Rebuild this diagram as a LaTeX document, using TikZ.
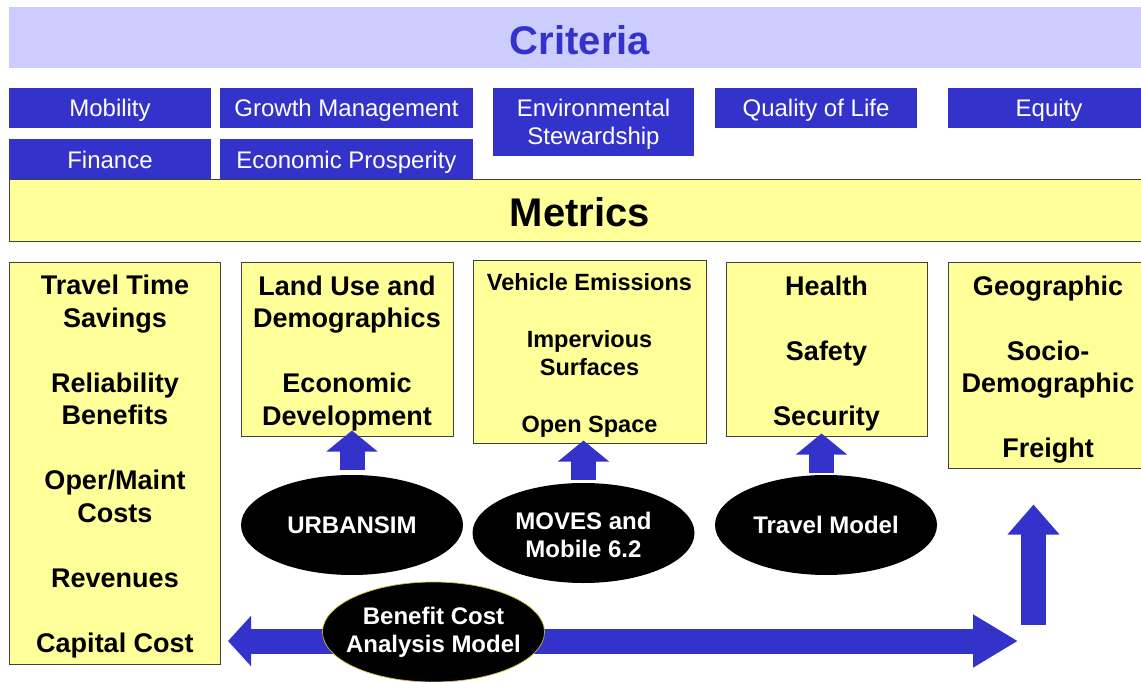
\documentclass[tikz,border=0pt]{standalone}
\usepackage{fontspec}
\setmainfont{Liberation Sans}
\usetikzlibrary{shapes.geometric,arrows.meta,calc}
\definecolor{cblue}{HTML}{3333CC}
\definecolor{clight}{HTML}{CCCCFF}
\definecolor{cyellow}{HTML}{FFFF99}
\pgfdeclarelayer{fg}
\pgfsetlayers{main,fg}
\begin{document}
\begin{tikzpicture}[x=1pt,y=-1pt,
  crit/.style={fill=cblue, text=white, font=\fontsize{24}{28}\selectfont, align=center, inner sep=0pt, text depth=0pt, minimum height=40pt},
  ybox/.style={fill=cyellow, draw=black!75, line width=1pt, inner sep=0pt},
  mtext/.style={font=\bfseries\fontsize{27}{32.5}\selectfont, align=center, inner sep=0pt},
  stext/.style={font=\bfseries\fontsize{23.5}{28.5}\selectfont, align=center, inner sep=0pt},
  title/.style={font=\bfseries\fontsize{40}{48}\selectfont, inner sep=0pt},
  model/.style={ellipse, fill=black, inner sep=0pt, minimum width=222pt, minimum height=100pt},
  mlabel/.style={text=white, font=\bfseries\fontsize{24}{28}\selectfont, align=center, inner sep=0pt},
  fat/.style={draw=cblue, line width=25pt},
]
\useasboundingbox (0,0) rectangle (1141,682);
\fill[white] (0,0) rectangle (1141,682);

% Criteria
\node[fill=clight, inner sep=0pt, minimum width=1142pt, minimum height=61pt] (critband) at (580,37.5) {};
\node[title, text=cblue] (crittitle) at (580,40) {Criteria};

\node[crit, minimum width=202pt] (mob) at (110,108) {Mobility};
\node[crit, minimum width=253pt] (grow) at (346.5,108) {Growth Management};
\node[crit, minimum width=202pt, minimum height=41pt] (fin) at (110,159.5) {Finance};
\node[crit, minimum width=253pt, minimum height=41pt] (econ) at (346.5,159.5) {Economic Prosperity};
\node[crit, minimum width=201pt, minimum height=68pt] (env) at (593.5,122) {Environmental\\Stewardship};
\node[crit, minimum width=202pt] (qol) at (816,108) {Quality of Life};
\node[crit, minimum width=202pt] (eq) at (1049,108) {Equity};

% Metrics
\node[ybox, minimum width=1145pt, minimum height=61pt] (metband) at (581.5,210.5) {};
\node[title] (mettitle) at (580,212) {Metrics};

\node[ybox, minimum width=211pt, minimum height=402pt] (box1) at (114.5,463) {};
\node[ybox, minimum width=212pt, minimum height=174pt] (box2) at (347,349) {};
\node[ybox, minimum width=233pt, minimum height=183pt] (box3) at (589.5,351.5) {};
\node[ybox, minimum width=201pt, minimum height=174pt] (box4) at (826.5,349) {};
\node[ybox, minimum width=202pt, minimum height=206pt] (box5) at (1049,365) {};

\node[mtext] (t1) at (115,466.7) {Travel Time\\Savings\\[32.5pt]Reliability\\Benefits\\[32.5pt]Oper/Maint\\Costs\\[32.5pt]Revenues\\[32.5pt]Capital Cost};
\node[mtext] (t2) at (347,353.2) {Land Use and\\Demographics\\[32.5pt]Economic\\Development};
\node[stext] (t3) at (589.5,355.5) {Vehicle Emissions\\[28.5pt]Impervious\\Surfaces\\[28.5pt]Open Space};
\node[mtext] (t4) at (826.5,353.2) {Health\\[32.5pt]Safety\\[32.5pt]Security};
\node[mtext] (t5) at (1048,369.7) {Geographic\\[32.5pt]Socio-\\Demographic\\[32.5pt]Freight};

% Models
\begin{pgfonlayer}{fg}
\node[model] (urban) at (352,525) {};
\node[mlabel] (urbanl) at (urban.center) {URBANSIM};
\node[model] (moves) at (583.5,533) {};
\node[mlabel] (movesl) at ($(moves.center)+(0,2)$) {MOVES and\\Mobile 6.2};
\node[model] (travel) at (826,525) {};
\node[mlabel] (travell) at (travel.center) {Travel Model};
\node[model, draw=yellow!75!black, line width=0.7pt] (bca) at (433.5,632) {};
\node[mlabel] (bcal) at (bca.center) {Benefit Cost\\Analysis Model};
\end{pgfonlayer}

% Arrows
\draw[fat, -{Triangle[length=21pt,width=50pt]}] ($(urban.north)+(0,-5)$) -- ($(box2.south -| urban.north)+(0,-6)$);
\draw[fat, -{Triangle[length=21pt,width=50pt]}] ($(moves.north)+(0,-3)$) -- ($(box3.south -| moves.north)+(0,-3)$);
\draw[fat, -{Triangle[length=21pt,width=50pt]}] ($(travel.north)+(-4.5,-2)$) -- ($(box4.south -| travel.north)+(-4.5,-3)$);
\coordinate (upfoot) at (1033.5,625);
\draw[fat, -{Triangle[length=30pt,width=50pt]}] (upfoot) -- ($(box5.south -| upfoot)+(0,36)$);
\coordinate (ltip) at (228,641);
\draw[fat, -{Triangle[length=23pt,width=49pt]}] (bca.center |- ltip) -- (ltip);
\coordinate (rtip) at (1018,641);
\draw[fat, -{Triangle[length=45pt,width=50pt]}] (bca.center |- rtip) -- (rtip);
\end{tikzpicture}
\end{document}
